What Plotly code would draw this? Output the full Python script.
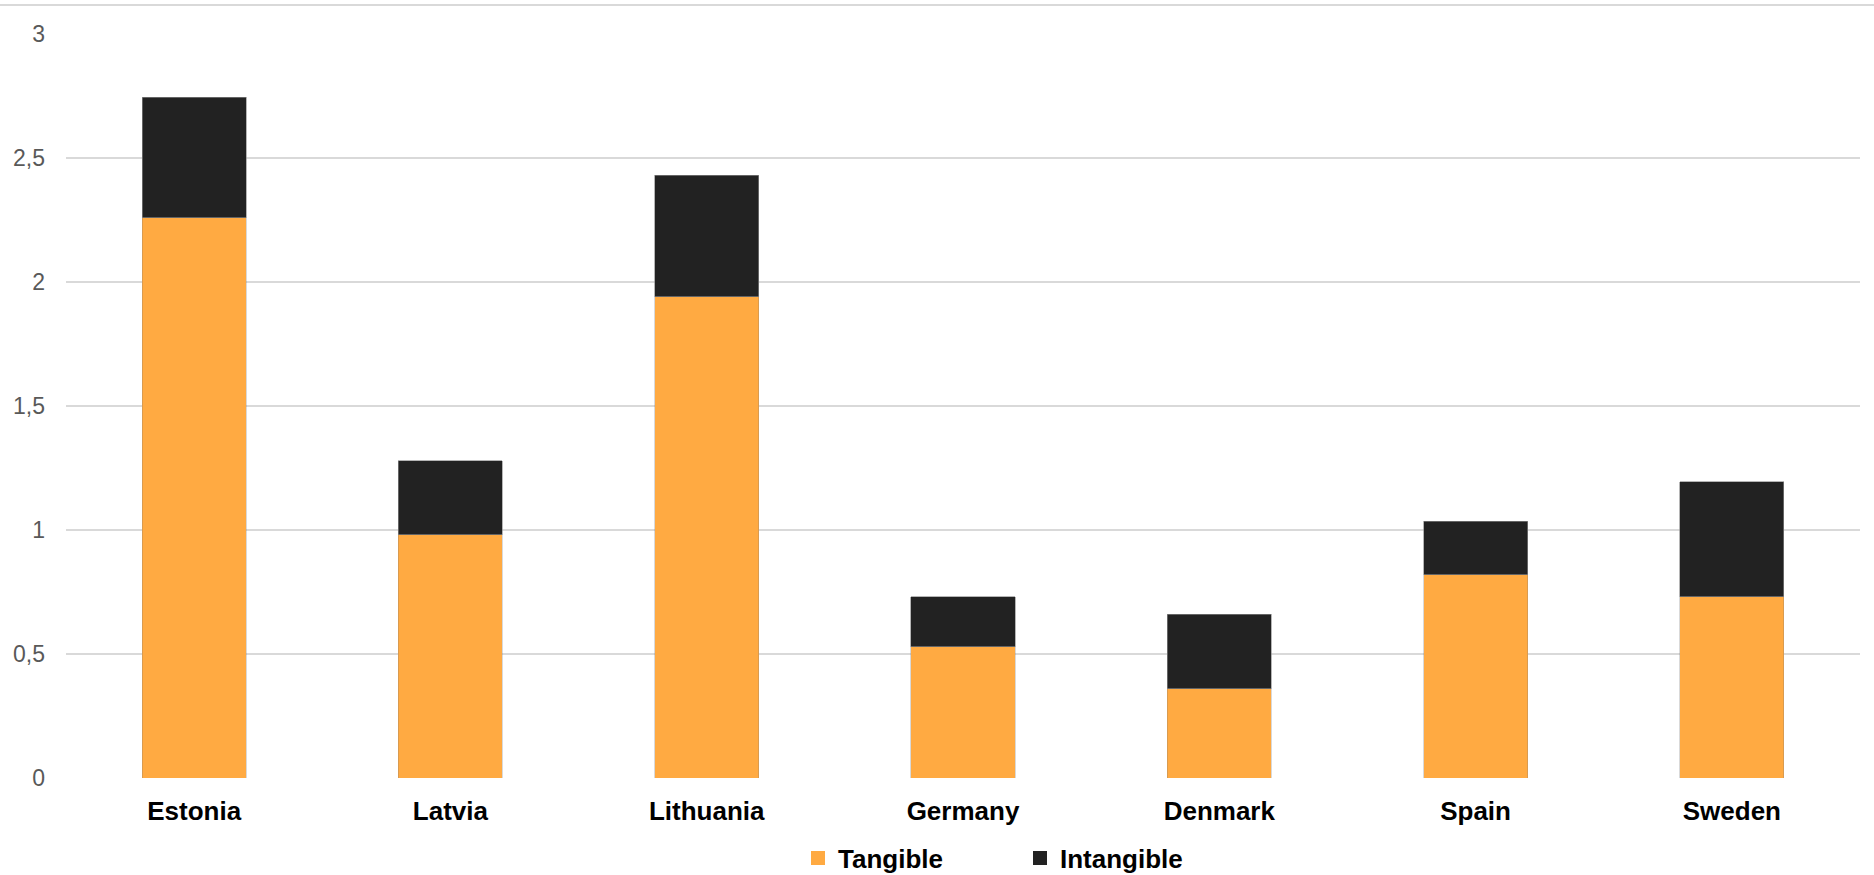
import plotly.graph_objects as go

countries = ["Estonia", "Latvia", "Lithuania", "Germany", "Denmark", "Spain", "Sweden"]
tangible = [2.26, 0.98, 1.94, 0.53, 0.36, 0.82, 0.73]
intangible = [0.485, 0.30, 0.49, 0.20, 0.30, 0.215, 0.465]
y_ticks = [0, 0.5, 1, 1.5, 2, 2.5, 3]
y_tick_labels = ["0", "0,5", "1", "1,5", "2", "2,5", "3"]
series_names = ["Tangible", "Intangible"]
series_colors = ["#FFAA42", "#222222"]

W, H = 1874, 875
ml, mr, mt, mb = 66, 14, 34, 97

fig = go.Figure()
fig.add_trace(go.Bar(
    x=countries, y=tangible, name=series_names[0], showlegend=False,
    marker=dict(color=series_colors[0], line=dict(color="rgba(120,120,120,0.35)", width=0.8)),
))
fig.add_trace(go.Bar(
    x=countries, y=intangible, name=series_names[1], showlegend=False,
    marker=dict(color=series_colors[1], line=dict(color="rgba(140,140,140,0.8)", width=0.8)),
))
# legend entries with larger square symbols
for name, color in zip(series_names, series_colors):
    fig.add_trace(go.Scatter(
        x=[None], y=[None], mode="markers", name=name,
        marker=dict(symbol="square", size=14, color=color),
    ))

fig.update_layout(
    width=W, height=H,
    barmode="stack",
    bargap=0.594,
    plot_bgcolor="white",
    paper_bgcolor="white",
    margin=dict(l=ml, r=mr, t=mt, b=mb, pad=0, autoexpand=False),
    font=dict(family="Liberation Sans, Arial, sans-serif"),
    showlegend=True,
    legend=dict(
        orientation="h",
        xref="container", yref="container",
        x=(817 - 19) / W, xanchor="left",
        y=1 - 858 / H, yanchor="middle",
        font=dict(size=26, color="#000000", weight="bold"),
        entrywidth=177, entrywidthmode="pixels",
        itemwidth=30,
        traceorder="normal",
    ),
    xaxis=dict(
        showgrid=False, zeroline=False, showline=False, automargin=False,
        tickfont=dict(size=26, color="#000000", weight="bold"),
        ticks="", ticklabelstandoff=15,
    ),
    yaxis=dict(
        range=[0, 3], automargin=False,
        tickvals=y_ticks, ticktext=y_tick_labels,
        showgrid=True, gridcolor="#D9D9D9", gridwidth=2,
        zeroline=False, showline=False,
        tickfont=dict(size=23, color="#595959"),
        ticks="", ticklabelstandoff=20,
    ),
    shapes=[dict(
        type="line", xref="paper", yref="paper",
        x0=-ml / (W - ml - mr), x1=(W - ml) / (W - ml - mr),
        y0=(H - mb - 5) / (H - mt - mb), y1=(H - mb - 5) / (H - mt - mb),
        line=dict(color="#D9D9D9", width=2),
    )],
)

fig.write_html("out.html")
